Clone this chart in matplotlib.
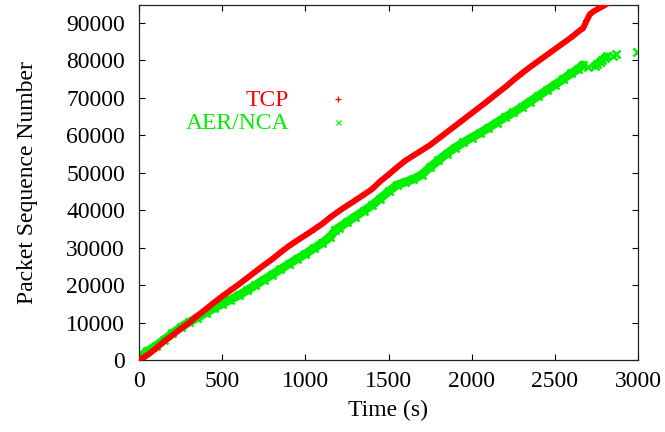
import matplotlib
matplotlib.use("Agg")
import matplotlib.pyplot as plt

# Sequence number of each delivered packet over time
tcp_time = [0, 50, 100, 150, 200, 250, 300, 350, 400, 450, 500, 550, 600, 650, 700,
            750, 800, 850, 900, 950, 1000, 1050, 1100, 1150, 1200, 1250, 1300, 1350,
            1400, 1450, 1500, 1550, 1600, 1650, 1700, 1750, 1800, 1850, 1900, 1950,
            2000, 2050, 2100, 2150, 2200, 2250, 2300, 2350, 2400, 2450, 2500, 2550,
            2600, 2650, 2670, 2690, 2710, 2730, 2760, 2790, 2820]
tcp_seq = [0, 1300, 3000, 4900, 6600, 8300, 9900, 11800, 13500, 15300, 17000, 18600,
           20200, 21900, 23600, 25300, 26900, 28700, 30400, 31900, 33300, 34800, 36300,
           38100, 39700, 41200, 42600, 44100, 45600, 47700, 49500, 51400, 53200, 54600,
           56000, 57400, 59100, 60800, 62500, 64200, 65900, 67600, 69300, 71100, 72800,
           74700, 76500, 78200, 79800, 81400, 83000, 84600, 86200, 88000, 88600, 90500,
           92300, 93000, 93800, 94500, 95300]

nca_time = [0, 20, 50, 100, 150, 200, 250, 300, 350, 400, 450, 500, 550, 600, 650, 700,
            750, 800, 850, 900, 950, 1000, 1050, 1100, 1150, 1180, 1200, 1250, 1300, 1350,
            1400, 1450, 1500, 1550, 1600, 1650, 1700, 1750, 1800, 1850, 1900, 1950, 2000,
            2050, 2100, 2150, 2200, 2250, 2300, 2350, 2400, 2450, 2500, 2550, 2600, 2640,
            2668]
nca_seq = [300, 1300, 2400, 3700, 5400, 7100, 8700, 10100, 11300, 12600, 13800, 15000,
           16100, 17300, 18600, 20000, 21400, 22800, 24200, 25600, 27000, 28300, 29800,
           31200, 32900, 34600, 35300, 36800, 38300, 39800, 41300, 43100, 45000, 46700,
           47500, 48300, 49500, 51500, 53300, 55100, 56700, 58100, 59400, 60600, 62000,
           63400, 64800, 66100, 67500, 69000, 70500, 72000, 73500, 75000, 76600, 77700,
           78800]
# Late arrivals after the main run
nca_tail_time = [2700, 2740, 2755, 2770, 2785, 2800, 2812, 2852, 2866, 2993]
nca_tail_seq = [78200, 78500, 79100, 79700, 80200, 80700, 81100, 81300, 81600, 82150]

x_ticks = [0, 500, 1000, 1500, 2000, 2500, 3000]
y_ticks = [0, 10000, 20000, 30000, 40000, 50000, 60000, 70000, 80000, 90000]

RED = "#ff0000"
GREEN = "#00f000"

plt.rcParams["font.family"] = ["Liberation Serif", "DejaVu Serif"]
plt.rcParams["font.size"] = 17

fig = plt.figure(figsize=(6.65, 4.32), dpi=100)
ax = fig.add_axes([139 / 665, 72 / 432, 499 / 665, 355 / 432])

# dense point traces drawn as thick bands
ax.plot(tcp_time, tcp_seq, "-", color=RED, lw=4.3, solid_capstyle="round", zorder=3)
ax.plot(tcp_time, tcp_seq, "+", color=RED, ms=5, mew=1.4, zorder=3)
ax.plot(nca_time, nca_seq, "-", color=GREEN, lw=6.3, solid_capstyle="round", zorder=2)
ax.plot(nca_time, nca_seq, "x", color=GREEN, ms=6, mew=1.8, zorder=2)
ax.plot(nca_tail_time[1:7], nca_tail_seq[1:7], "-", color=GREEN, lw=5.5,
        solid_capstyle="round", zorder=2)
ax.plot(nca_tail_time, nca_tail_seq, "x", color=GREEN, ms=5.5, mew=1.8, zorder=2)

ax.set_xlim(0, 3000)
ax.set_ylim(0, 94800)
ax.set_xticks(x_ticks)
ax.set_yticks(y_ticks)
ax.tick_params(direction="in", length=4.3, width=0.8, top=True, right=True,
               labelsize=17)
ax.tick_params(axis="x", pad=8)
ax.tick_params(axis="y", pad=10)
for s in ax.spines.values():
    s.set_linewidth(0.9)
    s.set_color("#222222")

ax.set_xlabel("Time (s)", fontsize=17)
ax.set_ylabel("Packet Sequence Number", fontsize=17)
ax.xaxis.set_label_coords(0.5, -0.112)
ax.xaxis.label.set_va("top")
ax.yaxis.set_label_coords(-0.203, 0.5)

# key
ax.text(0.3006, 0.7155, "TCP", color=RED, ha="right", va="baseline",
        transform=ax.transAxes, fontsize=17)
ax.plot([0.399], [0.735], "+", color=RED, ms=3.8, mew=0.9, transform=ax.transAxes)
ax.text(0.3006, 0.6507, "AER/NCA", color=GREEN, ha="right", va="baseline",
        transform=ax.transAxes, fontsize=17)
ax.plot([0.399], [0.670], "x", color=GREEN, ms=3.6, mew=0.9, transform=ax.transAxes)

fig.savefig("out.png", dpi=100)
